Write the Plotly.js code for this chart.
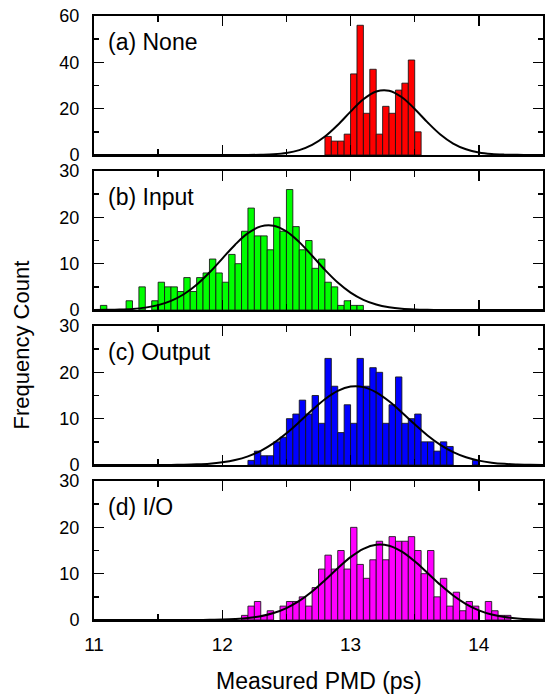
<!DOCTYPE html>
<html>
<head>
<meta charset="utf-8">
<script src="https://cdn.plot.ly/plotly-3.0.1.min.js"></script>
<style>html,body{margin:0;padding:0;background:#fff;}#chart{width:554px;height:699px;}</style>
</head>
<body>
<div id="chart"></div>
<script>
// ---- data ----
const binWidth = 0.05;

// (a) None
const binsA = [12.80,12.85,12.90,12.95,13.00,13.05,13.10,13.15,13.20,13.25,13.30,13.35,13.40,13.45,13.50];
const countsA = [8,6,6,9,35,56,18,37,9,21,18,28,31,41,10];

// (b) Input
const binsB = [11.05,11.25,11.35,11.45,11.50,11.55,11.60,11.65,11.70,11.75,11.80,11.85,11.90,11.95,12.00,12.05,12.10,12.15,12.20,12.25,12.30,12.35,12.40,12.45,12.50,12.55,12.60,12.65,12.70,12.75,12.80,12.85,12.90,12.95,13.00,13.05];
const countsB = [1,2,5,2,6,5,5,4,7,4,7,8,11,8,6,12,10,17,22,16,16,13,20,17,26,18,13,15,9,11,6,5,1,2,1,1];

// (c) Output
const binsC = [12.20,12.25,12.30,12.35,12.40,12.45,12.50,12.55,12.60,12.65,12.70,12.75,12.80,12.85,12.90,12.95,13.00,13.05,13.10,13.15,13.20,13.25,13.30,13.35,13.40,13.45,13.50,13.55,13.60,13.65,13.70,13.75,13.95];
const countsC = [1,3,2,2,5,6,10,11,14,11,15,9,23,17,7,13,9,23,17,21,20,9,13,19,9,10,11,5,5,3,5,4,1];

// (d) I/O
const binsD = [12.15,12.20,12.25,12.30,12.35,12.45,12.50,12.55,12.60,12.65,12.70,12.75,12.80,12.85,12.90,12.95,13.00,13.05,13.10,13.15,13.20,13.25,13.30,13.35,13.40,13.45,13.50,13.55,13.60,13.65,13.70,13.75,13.80,13.85,13.90,13.95,14.05,14.10,14.15,14.20];
const countsD = [1,3,4,1,2,3,4,4,5,3,7,11,14,11,15,11,20,12,9,13,17,13,18,17,17,18,15,10,15,5,9,3,6,2,4,3,4,2,1,1];

// Gaussian fit curves
const fitX = [11.0,11.1,11.2,11.3,11.4,11.5,11.6,11.7,11.8,11.9,12.0,12.1,12.2,12.3,12.4,12.5,12.6,12.7,12.8,12.9,13.0,13.1,13.2,13.3,13.4,13.5,13.6,13.7,13.8,13.9,14.0,14.1,14.2,14.3,14.4,14.5];
const fitA = [0,0,0,0,0,0,0,0,0,0,0,0,0,0.12,0.34,0.90,2.10,4.34,7.96,12.96,18.73,24.05,27.41,27.73,24.92,19.88,14.08,8.86,4.94,2.45,1.08,0.42,0.15,0.05,0.01,0];
const fitB = [0.01,0.04,0.10,0.24,0.52,1.06,1.97,3.41,5.46,8.09,11.10,14.10,16.58,18.05,18.19,16.97,14.65,11.72,8.67,5.94,3.77,2.21,1.20,0.61,0.28,0.12,0.05,0.02,0,0,0,0,0,0,0,0];
const fitC = [0,0,0,0,0,0.01,0.02,0.06,0.14,0.29,0.58,1.07,1.87,3.07,4.73,6.84,9.28,11.85,14.2,15.99,16.92,16.81,15.69,13.76,11.34,8.78,6.38,4.36,2.80,1.69,0.95,0.51,0.25,0.12,0.05,0.02];
const fitD = [0,0,0,0,0,0,0,0,0.01,0.04,0.09,0.20,0.41,0.82,1.50,2.58,4.12,6.16,8.59,11.18,13.57,15.37,16.25,16.03,14.75,12.66,10.15,7.59,5.29,3.45,2.09,1.18,0.63,0.31,0.14,0.06];

const panelLabels = ['(a) None','(b) Input','(c) Output','(d) I/O'];
const xTickVals = [11,12,13,14];
const yRangeA = [0,60], yRangeOther = [0,30];

// ---- build ----
const FONT = 'Liberation Sans, Arial, sans-serif';
const panels = [
  {bins: binsA, counts: countsA, fit: fitA, color: '#ff0000', xa: 'x4', ya: 'y4', yr: yRangeA, dt: 20, mdt: 10},
  {bins: binsB, counts: countsB, fit: fitB, color: '#00ff00', xa: 'x3', ya: 'y3', yr: yRangeOther, dt: 10, mdt: 5},
  {bins: binsC, counts: countsC, fit: fitC, color: '#0000ff', xa: 'x2', ya: 'y2', yr: yRangeOther, dt: 10, mdt: 5},
  {bins: binsD, counts: countsD, fit: fitD, color: '#ff00ff', xa: 'x',  ya: 'y',  yr: yRangeOther, dt: 10, mdt: 5}
];
const domains = [[0.7699,1],[0.5132,0.7434],[0.2566,0.4868],[0,0.2301]];

const traces = [];
panels.forEach(p => {
  traces.push({
    type: 'bar', x: p.bins, y: p.counts, width: binWidth, offset: 0,
    xaxis: p.xa, yaxis: p.ya,
    marker: {color: p.color, line: {color: 'rgba(20,20,20,0.85)', width: 1}},
    hoverinfo: 'skip', showlegend: false
  });
  traces.push({
    type: 'scatter', mode: 'lines', x: fitX, y: p.fit,
    xaxis: p.xa, yaxis: p.ya,
    line: {color: '#000', width: 2, shape: 'spline', smoothing: 1},
    hoverinfo: 'skip', showlegend: false, cliponaxis: true
  });
});

function xAxis(anchor, showLabels) {
  return {
    range: [11, 14.5], anchor: anchor,
    tickmode: 'array', tickvals: xTickVals,
    showticklabels: showLabels,
    ticks: 'inside', ticklen: 10, tickwidth: 1.5, tickcolor: '#000',
    minor: {dtick: 0.5, tick0: 11, ticks: 'inside', ticklen: 6, tickwidth: 1.5, tickcolor: '#000'},
    showline: true, linewidth: 2, linecolor: '#000', mirror: 'ticks',
    showgrid: false, zeroline: false, fixedrange: true,
    ticklabelstandoff: 6,
    tickfont: {family: FONT, size: 19, color: '#000'}
  };
}
function yAxis(anchor, dom, p) {
  return {
    domain: dom, anchor: anchor, range: p.yr,
    dtick: p.dt, tick0: 0,
    ticks: 'inside', ticklen: 10, tickwidth: 1.5, tickcolor: '#000',
    minor: {dtick: p.mdt, tick0: 0, ticks: 'inside', ticklen: 5, tickwidth: 1.5, tickcolor: '#000'},
    showline: true, linewidth: 2, linecolor: '#000', mirror: 'ticks',
    showgrid: false, zeroline: false, fixedrange: true,
    ticklabelstandoff: 9,
    tickfont: {family: FONT, size: 18, color: '#000'}
  };
}

const layout = {
  width: 554, height: 699,
  margin: {l: 94, r: 11, t: 16, b: 79},
  paper_bgcolor: '#fff', plot_bgcolor: '#fff',
  font: {family: FONT, color: '#000'},
  showlegend: false,
  xaxis: xAxis('y', true),
  xaxis2: xAxis('y2', false),
  xaxis3: xAxis('y3', false),
  xaxis4: xAxis('y4', false),
  yaxis: yAxis('x', domains[3], panels[3]),
  yaxis2: yAxis('x2', domains[2], panels[2]),
  yaxis3: yAxis('x3', domains[1], panels[1]),
  yaxis4: yAxis('x4', domains[0], panels[0]),
  annotations: [
    {text: 'Measured PMD (ps)', xref: 'paper', yref: 'paper', x: 0.5, y: 0, yshift: -61,
     xanchor: 'center', yanchor: 'middle', showarrow: false, font: {family: FONT, size: 23, color: '#000'}},
    {text: 'Frequency Count', xref: 'paper', yref: 'paper', x: -0.162, y: 0.455, textangle: -90,
     xanchor: 'center', yanchor: 'middle', showarrow: false, font: {family: FONT, size: 22, color: '#000'}}
  ]
};
const ax = ['x4','x3','x2','x'];
const ay = ['y4','y3','y2','y'];
panelLabels.forEach((t, i) => {
  layout.annotations.push({
    text: t, xref: ax[i] + ' domain', yref: ay[i] + ' domain', x: 0.027, y: 0.81,
    xanchor: 'left', yanchor: 'middle', showarrow: false,
    font: {family: FONT, size: 23, color: '#000'}
  });
});

Plotly.newPlot('chart', traces, layout, {staticPlot: true, displayModeBar: false});
</script>
</body>
</html>
